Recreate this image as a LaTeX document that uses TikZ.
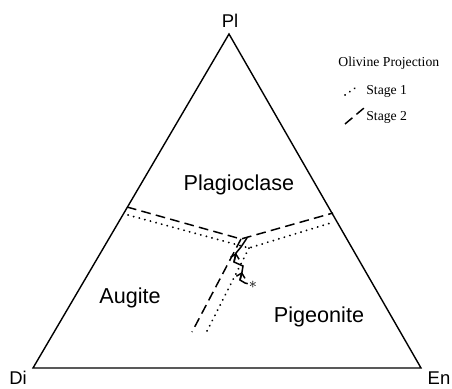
\documentclass[tikz,border=0pt]{standalone}
\usepackage{fontspec}
\setmainfont{Liberation Serif}
\setsansfont{Liberation Sans}
\usetikzlibrary{arrows.meta}

\tikzset{
  edgeline/.style={line width=0.8pt, line join=miter},
  stageone/.style={line width=1.1pt, dash pattern=on 0.1pt off 3.2pt, line cap=round},
  stagetwo/.style={line width=0.85pt, dash pattern=on 5.5pt off 3pt},
  pathline/.style={line width=0.85pt},
  cornerlabel/.style={font=\sffamily\fontsize{10.5}{12}\selectfont},
  fieldlabel/.style={font=\sffamily\fontsize{12.3}{14}\selectfont},
  keylabel/.style={font=\fontsize{7.8}{9}\selectfont, anchor=west, inner sep=0pt},
}

\begin{document}
\begin{tikzpicture}[x=0.02cm,y=-0.02cm]
\path[use as bounding box] (0,0) rectangle (452,388);
% corners of the triangle
\coordinate (Di) at (33,368);
\coordinate (En) at (421,368);
\coordinate (Pl) at (229,34);
\draw[edgeline] (Di) -- (En) -- (Pl) -- cycle;
\node[cornerlabel] (PlLabel) at (230,21) {Pl};
\node[cornerlabel] (DiLabel) at (18,378) {Di};
\node[cornerlabel] (EnLabel) at (439,378) {En};
% fields
\node[fieldlabel] (plag) at (239,185) {Plagioclase};
\node[fieldlabel] (aug) at (130,298) {Augite};
\node[fieldlabel] (pig) at (319,317) {Pigeonite};
% stage 2 boundaries
\coordinate (s2left) at (127,207);
\coordinate (s2joint) at (241,239);
\coordinate (s2right) at (333,213);
\coordinate (s2low) at (192,332);
\draw[stagetwo] (s2left) -- (s2joint) -- (s2right);
\draw[stagetwo] (s2joint) -- (s2low);
% stage 1 boundaries
\coordinate (s1left) at (128,215);
\coordinate (s1joint) at (249,248);
\coordinate (s1right) at (334,222);
\coordinate (s1low) at (206,333);
\draw[stageone] (s1left) -- (s1joint) -- (s1right);
\draw[stageone] (s1joint) -- (s1low);
% liquid path
\node[inner sep=0.5pt, font=\small] (star) at (253,285) {$\ast$};
\coordinate (t1) at (245,283);
\coordinate (t2) at (240,280);
\coordinate (t3) at (242,272);
\coordinate (t4) at (243,266);
\coordinate (t5) at (234,262);
\coordinate (t6) at (236,253);
\coordinate (t7) at (241,247);
\coordinate (t8) at (247,238);
\draw[pathline] (star) -- (t1) -- (t2) -- (t3) -- (t4) -- (t5) -- (t6) -- (t7) -- (t8);
\draw[pathline,-{Straight Barb[length=2.5pt,width=5pt]}] (t2) -- (t3);
\draw[pathline,-{Straight Barb[length=2.5pt,width=5pt]}] (t5) -- (t6);
% legend
\node[keylabel] (olv) at (338,63) {Olivine Projection};
\coordinate (k1a) at (345,95);
\coordinate (k1b) at (358,86);
\draw[stageone] (k1a) -- (k1b);
\node[keylabel] (k1) at (366,91) {Stage 1};
\coordinate (k2a) at (345,124);
\coordinate (k2b) at (364,108);
\draw[stagetwo] (k2a) -- (k2b);
\node[keylabel] (k2) at (366,117) {Stage 2};
\end{tikzpicture}
\end{document}
